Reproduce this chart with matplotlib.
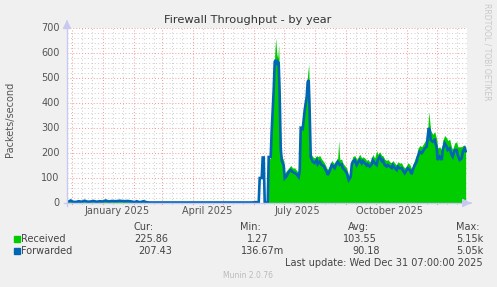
import numpy as np
import matplotlib
matplotlib.use("Agg")
import matplotlib.pyplot as plt
from matplotlib.lines import Line2D
from matplotlib.patches import Rectangle

# ---- data (day index: 1 = 2025-01-01, values in packets/second) ----
day = [-35, -33, -31, -29, -26, -23, -20, -17, -14, -11, -8, -5, -2, 1, 4, 7, 10,
       14, 18, 22, 26, 30, 33, 35, 38, 42, 45, 48, 78, 108, 138, 150, 154, 156, 157,
       158, 160, 161, 162, 163, 166, 167, 169, 170, 172, 173, 174, 175, 176, 177, 178,
       179, 180, 182, 183, 185, 187, 189, 191, 193, 195, 197, 198, 199, 201, 203, 205,
       206, 207, 208, 209, 211, 213, 215, 216, 218, 220, 222, 224, 225, 226, 228, 230,
       232, 233, 235, 236, 237, 238, 240, 241, 243, 245, 247, 249, 250, 251, 253, 255,
       256, 258, 260, 261, 263, 265, 266, 268, 270, 271, 273, 275, 276, 278, 280, 281,
       283, 285, 286, 288, 290, 291, 293, 295, 296, 298, 300, 301, 303, 305, 306, 308,
       310, 311, 313, 315, 316, 318, 320, 321, 323, 325, 326, 327, 328, 329, 331, 333,
       335, 336, 338, 340, 341, 343, 345, 346, 348, 350, 351, 353, 355, 356, 358, 360,
       361, 363, 364]
forwarded = [4, 6, 10, 5, 4, 7, 5, 9, 5, 6, 8, 5, 7, 6, 10, 6, 8,
             7, 9, 7, 8, 6, 3, 7, 3, 7, 3, 2, 2, 2, 2, 2, 3, 2, 2,
             100, 100, 182, 182, 2, 2, 184, 184, 290, 452, 565, 572, 552, 565, 560, 425,
             220, 170, 150, 99, 108, 124, 132, 124, 120, 115, 104, 130, 300, 296, 372, 425,
             485, 492, 360, 184, 165, 160, 172, 155, 165, 152, 148, 132, 125, 112, 128, 152,
             145, 140, 159, 165, 160, 152, 155, 140, 132, 120, 92, 105, 152, 165, 172, 152,
             160, 172, 159, 168, 160, 150, 155, 146, 155, 172, 160, 152, 172, 185, 168, 172,
             152, 146, 152, 146, 140, 152, 140, 132, 146, 139, 140, 132, 119, 132, 139, 132,
             115, 132, 152, 165, 185, 205, 199, 205, 219, 225, 265, 300, 292, 252, 245, 252,
             219, 172, 185, 172, 212, 239, 225, 212, 219, 192, 185, 212, 212, 192, 172, 179,
             205, 219, 207]
received = [5, 7, 14, 6, 5, 8, 6, 10, 6, 7, 9, 6, 8, 7, 11, 7, 9,
            8, 10, 8, 9, 7, 4, 8, 3, 8, 3, 2, 2, 2, 2, 2, 12, 3, 2,
            2, 2, 2, 2, 2, 2, 175, 180, 300, 470, 600, 660, 600, 580, 632, 470,
            250, 190, 170, 120, 130, 140, 150, 140, 140, 130, 120, 150, 310, 310, 390, 450,
            520, 555, 400, 200, 185, 180, 190, 185, 190, 175, 165, 150, 140, 135, 150, 170,
            160, 160, 175, 180, 250, 175, 175, 160, 150, 140, 110, 130, 170, 185, 190, 175,
            180, 195, 180, 185, 180, 170, 175, 165, 175, 195, 180, 210, 195, 205, 190, 190,
            175, 170, 175, 165, 160, 170, 160, 150, 165, 160, 160, 150, 140, 150, 160, 155,
            135, 150, 175, 190, 215, 230, 225, 232, 245, 255, 290, 365, 330, 290, 275, 285,
            255, 220, 225, 210, 250, 270, 260, 250, 255, 220, 215, 240, 245, 225, 225, 225,
            230, 228, 226]

legend_names = ["Received", "Forwarded"]
cur = ["225.86", "207.43"]
vmin = ["1.27", "136.67m"]
avg = ["103.55", "90.18"]
vmax = ["5.15k", "5.05k"]
month_labels = ["January 2025", "April 2025", "July 2025", "October 2025"]

GREEN = "#00CC00"
BLUE = "#0066B3"
BG = "#F0F0F0"

W, H = 497, 287
fig = plt.figure(figsize=(W / 100, H / 100), dpi=100, facecolor=BG)

x0, x1, ytop, ybot = 67, 467, 28, 203
ax = fig.add_axes([x0 / W, 1 - ybot / H, (x1 - x0) / W, (ybot - ytop) / H])
ax.set_facecolor("white")

t0 = np.datetime64("2024-12-31T00:00")
end = np.datetime64("2025-12-31T07:00")
start = end - np.timedelta64(400, "D")
xs = t0 + np.array(day) * np.timedelta64(1, "D")
xs_num = matplotlib.dates.date2num(xs.astype("datetime64[m]").astype(object))
xlo = matplotlib.dates.date2num(start.astype(object))
xhi = matplotlib.dates.date2num(end.astype(object))

ax.set_xlim(xlo, xhi)
ax.set_ylim(0, 700)

# grid
minor_color = (0.80, 0.80, 0.80)
major_color = (0.95, 0.60, 0.60)
for v in range(0, 701, 20):
    if v % 100:
        ax.axhline(v, color=minor_color, lw=0.7, ls=(0, (1, 2.5)), zorder=1)
for v in range(100, 701, 100):
    ax.axhline(v, color=major_color, lw=0.7, ls=(0, (1, 2)), zorder=1.5)

months = np.arange(np.datetime64("2024-12"), np.datetime64("2026-01"), np.timedelta64(1, "M"))
for m in months:
    for d in (10, 20):
        dd = m.astype("datetime64[D]") + np.timedelta64(d, "D")
        xv = matplotlib.dates.date2num(dd.astype(object))
        if xlo < xv < xhi:
            ax.axvline(xv, color=minor_color, lw=0.7, ls=(0, (1, 2.5)), zorder=1)
            ax.plot([xv, xv], [-3, 0], color=minor_color, lw=0.7, clip_on=False, zorder=1)
    xv = matplotlib.dates.date2num(m.astype("datetime64[D]").astype(object))
    ax.axvline(xv, color=major_color, lw=0.7, ls=(0, (1, 2)), zorder=1.5)
    ax.plot([xv, xv], [-4, 0], color=major_color, lw=0.8, clip_on=False, zorder=1)

ax.fill_between(xs_num, received, 0, color=GREEN, lw=0, zorder=3)
ax.plot(xs_num, forwarded, color=BLUE, lw=1.9, zorder=4, solid_joinstyle="miter")

for s in ax.spines.values():
    s.set_visible(False)
ax.set_xticks([])
ax.set_yticks([])

# axis lines with arrows
axis_col = "#C8C8F0"
fig.add_artist(Line2D([(x0 - 3) / W, (x1 + 2) / W], [1 - ybot / H] * 2, color=axis_col, lw=1))
fig.add_artist(Line2D([x0 / W] * 2, [1 - (ybot + 3) / H, 1 - (ytop - 4) / H], color=axis_col, lw=1))
ax.annotate("", xy=((x1 + 7) / W, 1 - ybot / H), xytext=((x1 + 1) / W, 1 - ybot / H),
            xycoords="figure fraction",
            arrowprops=dict(arrowstyle="-|>,head_length=0.5,head_width=0.25", color=axis_col, lw=1))
ax.annotate("", xy=(x0 / W, 1 - (ytop - 8) / H), xytext=(x0 / W, 1 - (ytop - 3) / H),
            xycoords="figure fraction",
            arrowprops=dict(arrowstyle="-|>,head_length=0.5,head_width=0.25", color=axis_col, lw=1))

tc = "#555555"
# y tick labels
for v in range(0, 701, 100):
    ax.text(-0.018, v, str(v), transform=ax.get_yaxis_transform(), ha="right", va="center",
            fontsize=7, color=tc)
# x labels (centered mid-month)
for lab, m in zip(month_labels, ["2025-01-15", "2025-04-15", "2025-07-15", "2025-10-15"]):
    xv = matplotlib.dates.date2num(np.datetime64(m).astype(object))
    ax.text(xv, -0.02, lab, transform=ax.get_xaxis_transform(), ha="center", va="top",
            fontsize=7, color=tc)

def ft(x, y, s, **kw):
    fig.text(x / W, 1 - y / H, s, **kw)

ft(248, 20, "Firewall Throughput - by year", ha="center", va="center", fontsize=8.2, color="#333333")
ft(10, 119, "Packets/second", ha="center", va="center", rotation=90, fontsize=7, color=tc)
ft(487, 52, "RRDTOOL / TOBI OETIKER", ha="center", va="center", rotation=-90, fontsize=5.5, color="#C8C8C8")

lc = "#444444"
fs = 7
ft(133, 227, "Cur:", ha="left", va="center", fontsize=fs, color=lc)
ft(240, 227, "Min:", ha="left", va="center", fontsize=fs, color=lc)
ft(348, 227, "Avg:", ha="left", va="center", fontsize=fs, color=lc)
ft(456, 227, "Max:", ha="left", va="center", fontsize=fs, color=lc)

rows_y = [239, 251]
colors = [GREEN, BLUE]
cur_r = [168, 172]
min_r = [269, 284]
avg_r = [377, 380]
for i in range(2):
    y = rows_y[i]
    fig.add_artist(Rectangle((14 / W, 1 - (y + 3) / H), 6 / W, 6 / H, color=colors[i]))
    ft(20.5, y, legend_names[i], ha="left", va="center", fontsize=fs, color=lc)
    ft(cur_r[i], y, cur[i], ha="right", va="center", fontsize=fs, color=lc)
    ft(min_r[i], y, vmin[i], ha="right", va="center", fontsize=fs, color=lc)
    ft(avg_r[i], y, avg[i], ha="right", va="center", fontsize=fs, color=lc)
    ft(483, y, vmax[i], ha="right", va="center", fontsize=fs, color=lc)

ft(483, 263, "Last update: Wed Dec 31 07:00:00 2025", ha="right", va="center", fontsize=fs, color=lc)
ft(248, 275, "Munin 2.0.76", ha="center", va="center", fontsize=5.5, color="#BBBBBB")

fig.savefig("out.png", dpi=100, facecolor=BG)
